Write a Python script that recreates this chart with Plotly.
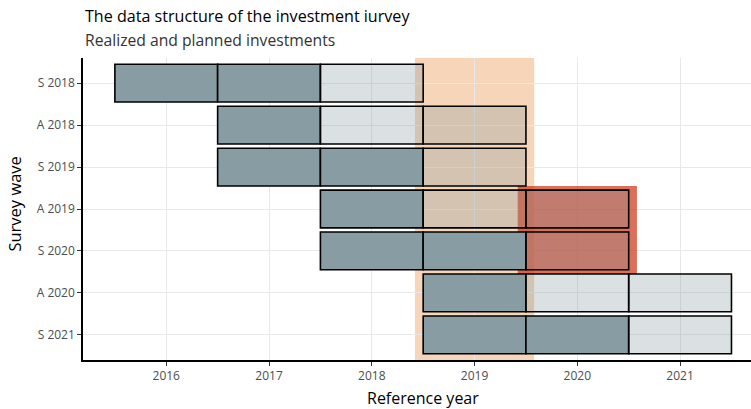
import plotly.graph_objects as go

# ---- data ----
waves = ["S 2018", "A 2018", "S 2019", "A 2019", "S 2020", "A 2020", "S 2021"]
realized_years = [[2016, 2017], [2017], [2017, 2018], [2018], [2018, 2019], [2019], [2019, 2020]]
planned_years = [[2018], [2018, 2019], [2019], [2019, 2020], [2020], [2020, 2021], [2021]]
x_ticks = [2016, 2017, 2018, 2019, 2020, 2021]
band_year = 2019
highlight_year = 2020
highlight_waves = ["A 2019", "S 2020"]

title = "The data structure of the investment iurvey"
subtitle = "Realized and planned investments"
x_title = "Reference year"
y_title = "Survey wave"

FONT = "Open Sans"
DARK = "rgb(136,157,163)"
LIGHT = "rgba(136,157,163,0.3)"

def bar_trace(years_list, color, name):
    ys, bases, widths = [], [], []
    for w, yrs in zip(waves, years_list):
        for yr in yrs:
            ys.append(w)
            bases.append(yr - 0.5)
            widths.append(1)
    return go.Bar(
        y=ys, x=widths, base=bases, orientation="h", width=0.9,
        marker=dict(color=color, line=dict(color="black", width=1.6)),
        name=name, showlegend=False, hoverinfo="skip",
    )

fig = go.Figure()
fig.add_trace(bar_trace(realized_years, DARK, "Realized"))
fig.add_trace(bar_trace(planned_years, LIGHT, "Planned"))

idx = [waves.index(w) for w in highlight_waves]
shapes = [
    dict(type="rect", xref="x", yref="paper", x0=band_year - 0.58, x1=band_year + 0.58,
         y0=0, y1=1, fillcolor="rgba(235,155,85,0.42)", line=dict(width=0), layer="between"),
    dict(type="rect", xref="x", yref="y", x0=highlight_year - 0.58, x1=highlight_year + 0.58,
         y0=min(idx) - 0.55, y1=max(idx) + 0.55, fillcolor="rgba(205,55,25,0.72)",
         line=dict(width=0), layer="between"),
]

axis_common = dict(
    showgrid=True, gridcolor="#e8e8e8", gridwidth=1.2, zeroline=False,
    showline=True, linecolor="black", linewidth=1.5,
    ticks="outside", ticklen=4, tickcolor="#333333", tickwidth=1.2,
    tickfont=dict(size=12, color="#4d4d4d", family=FONT),
    automargin=False,
)

fig.update_layout(
    width=751, height=409,
    margin=dict(l=83, r=0, t=58, b=49),
    plot_bgcolor="white", paper_bgcolor="white",
    barmode="overlay",
    font=dict(family=FONT, color="black"),
    shapes=shapes,
    xaxis=dict(range=[2015.19, 2021.69], tickvals=x_ticks,
               ticktext=[str(t) for t in x_ticks], **axis_common),
    yaxis=dict(type="category", categoryorder="array", categoryarray=waves,
               range=[len(waves) - 0.4, -0.6], **axis_common),
    annotations=[
        dict(text=title, xref="paper", yref="paper", x=0, y=1.139, xanchor="left",
             yanchor="middle", showarrow=False, font=dict(size=16.1, family=FONT, color="black")),
        dict(text=subtitle, xref="paper", yref="paper", x=0, y=1.0596, xanchor="left",
             yanchor="middle", showarrow=False, font=dict(size=15.7, family=FONT, color="#333333")),
        dict(text=x_title, xref="paper", yref="paper", x=0.5097, y=-0.126, xanchor="center",
             yanchor="middle", showarrow=False, font=dict(size=16, family=FONT, color="black")),
        dict(text=y_title, xref="paper", yref="paper", x=-0.1018, y=0.518, xanchor="center",
             yanchor="middle", textangle=-90, showarrow=False,
             font=dict(size=16.5, family=FONT, color="black")),
    ],
)

fig.write_html("out.html", config={"displayModeBar": False},
               post_script="document.body.style.margin='0';")
